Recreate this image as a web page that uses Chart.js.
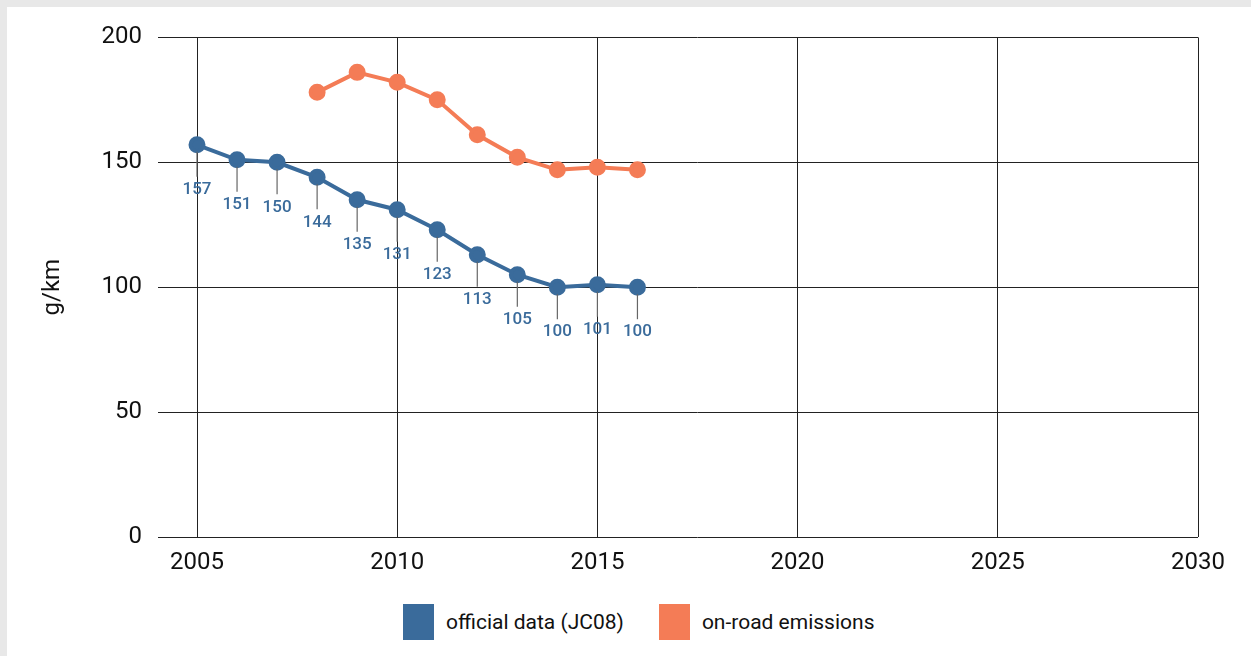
<!DOCTYPE html>
<html>
<head>
<meta charset="utf-8">
<script src="https://cdn.jsdelivr.net/npm/chart.js@4/dist/chart.umd.min.js"></script>
<style>
  html, body { margin: 0; padding: 0; }
  body { background: #e8e8e8; width: 1251px; height: 656px; overflow: hidden; position: relative; font-family: Roboto, sans-serif; }
  #panel { position: absolute; left: 7px; top: 7px; right: 0; bottom: 0; background: #fff; }
  #wrap { position: absolute; left: 0; top: 0; width: 1244px; height: 580px; }
  #legend { position: absolute; top: 597px; left: 396px; display: flex; align-items: center; font-size: 21px; color: #111; }
  .item { display: flex; align-items: center; margin-right: 35px; }
  .box { width: 31px; height: 36px; margin-right: 12px; }
</style>
</head>
<body>
<div id="panel">
  <div id="wrap"><canvas id="chart"></canvas></div>
  <div id="legend"></div>
</div>
<script>
// values
let years = [2005, 2006, 2007, 2008, 2009, 2010, 2011, 2012, 2013, 2014, 2015, 2016];
let official = [157, 151, 150, 144, 135, 131, 123, 113, 105, 100, 101, 100];
let roadYears = [2008, 2009, 2010, 2011, 2012, 2013, 2014, 2015, 2016];
let onRoad = [178, 186, 182, 175, 161, 152, 147, 148, 147];
let seriesNames = ["official data (JC08)", "on-road emissions"];
let colors = ["#3a6b9b", "#f47c56"];

// legend
let legendHtml = "";
seriesNames.forEach((n, i) => {
    legendHtml += `<div class="item"><div class="box" style="background:${colors[i]}"></div><span>${n}</span></div>`;
});
document.getElementById("legend").innerHTML = legendHtml;

// value labels with leader lines under the official series
const leaderLabels = {
    id: "leaderLabels",
    afterDatasetsDraw(chart) {
        const ctx = chart.ctx;
        const meta = chart.getDatasetMeta(0);
        ctx.save();
        meta.data.forEach((pt, i) => {
            ctx.strokeStyle = "#666";
            ctx.lineWidth = 1.2;
            ctx.beginPath();
            ctx.moveTo(pt.x, pt.y + 7);
            ctx.lineTo(pt.x, pt.y + 32);
            ctx.stroke();
            ctx.fillStyle = colors[0];
            ctx.font = "500 17px Roboto";
            ctx.textAlign = "center";
            ctx.textBaseline = "middle";
            ctx.fillText(String(official[i]), pt.x, pt.y + 45);
        });
        ctx.restore();
    }
};

const ctx = document.getElementById("chart").getContext("2d");
new Chart(ctx, {
    type: "line",
    data: {
        datasets: [{
            label: seriesNames[0],
            data: years.map((y, i) => ({ x: y, y: official[i] })),
            borderColor: colors[0],
            backgroundColor: colors[0],
            borderWidth: 4,
            pointRadius: 6.5,
            pointHoverRadius: 6.5,
            tension: 0,
            clip: false
        }, {
            label: seriesNames[1],
            data: roadYears.map((y, i) => ({ x: y, y: onRoad[i] })),
            borderColor: colors[1],
            backgroundColor: colors[1],
            borderWidth: 4,
            pointRadius: 6.5,
            pointHoverRadius: 6.5,
            tension: 0,
            clip: false
        }]
    },
    options: {
        responsive: true,
        maintainAspectRatio: false,
        animation: false,
        layout: { padding: { top: 29, right: 53, left: 0, bottom: 0 } },
        plugins: {
            legend: { display: false },
            tooltip: { enabled: false }
        },
        scales: {
            x: {
                type: "linear",
                min: 2005,
                max: 2030,
                border: { display: false },
                grid: { color: "#222", lineWidth: 1, drawTicks: false },
                ticks: {
                    stepSize: 5,
                    padding: 12,
                    color: "#111",
                    font: { family: "Roboto", size: 24 },
                    callback: v => String(v)
                },
                afterFit: s => { s.height = 50; }
            },
            y: {
                min: 0,
                max: 200,
                border: { display: false },
                grid: { color: "#222", lineWidth: 1, tickLength: 39 },
                ticks: {
                    stepSize: 50,
                    padding: 16,
                    color: "#111",
                    font: { family: "Roboto", size: 24 }
                },
                title: {
                    display: true,
                    text: "g/km",
                    color: "#111",
                    font: { family: "Roboto", size: 24 },
                    padding: { top: 32, bottom: 0 }
                },
                afterFit: s => { s.width = 190; }
            }
        }
    },
    plugins: [leaderLabels]
});
</script>
</body>
</html>
